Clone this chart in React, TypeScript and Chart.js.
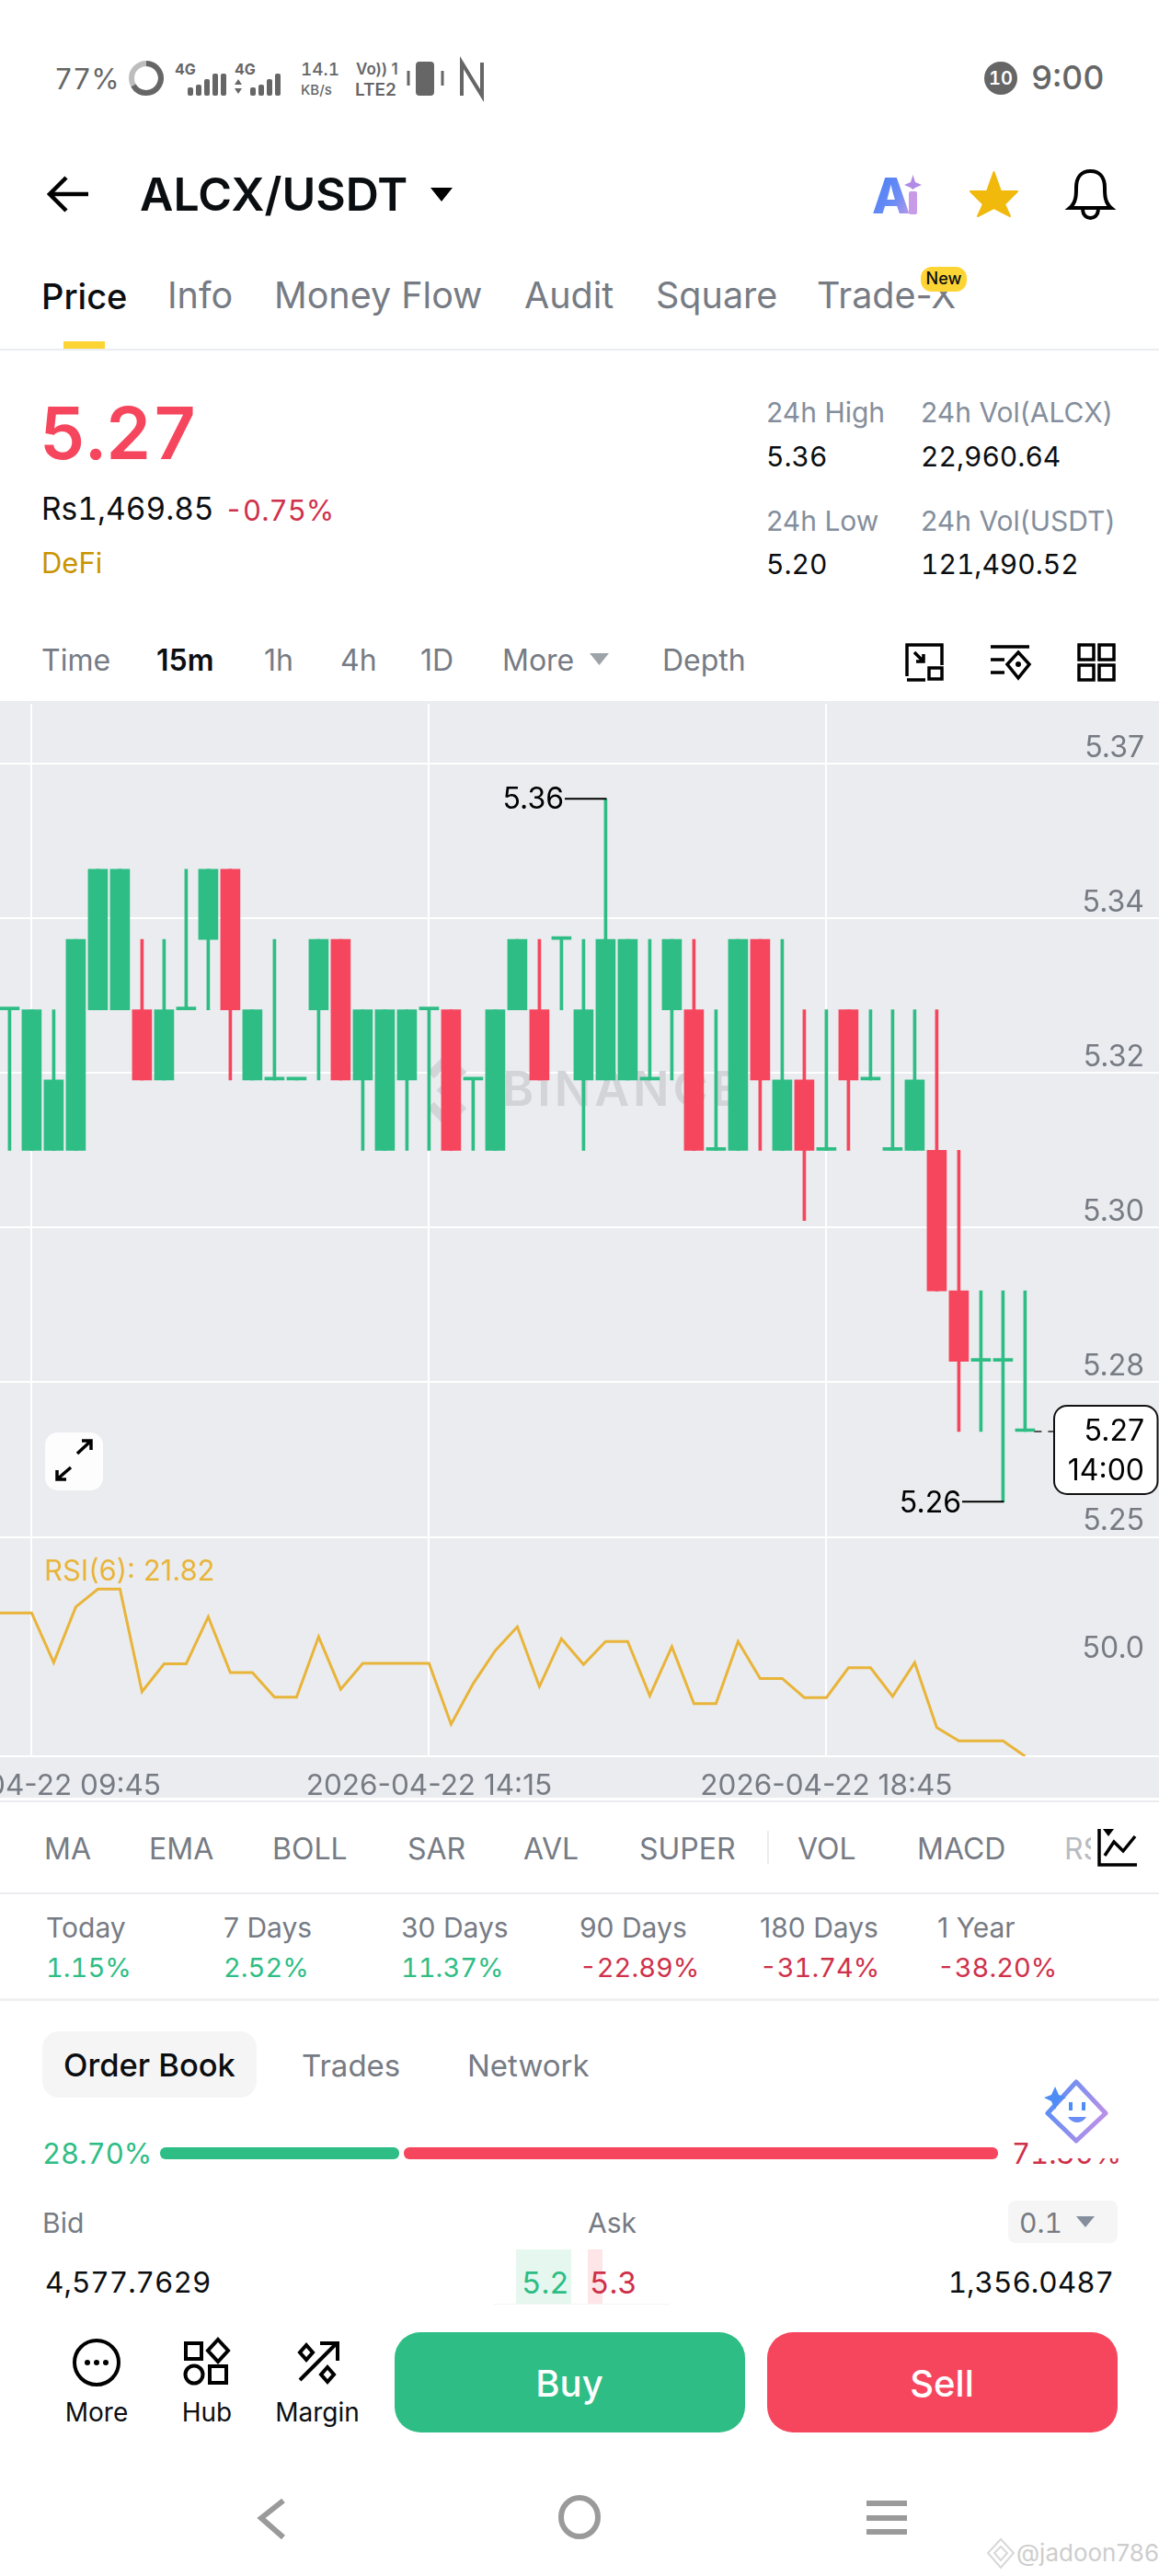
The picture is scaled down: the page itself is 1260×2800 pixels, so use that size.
import React, { useEffect, useRef } from "react";
import { Chart, registerables } from "chart.js";

Chart.register(...registerables);

const opens = [5.33,5.31,5.31,5.31,5.33,5.33,5.33,5.32,5.33,5.34,5.35,5.32,5.32,5.32,5.33,5.34,5.32,5.31,5.32,5.33,5.33,5.32,5.31,5.33,5.33,5.34,5.32,5.32,5.32,5.32,5.33,5.33,5.31,5.31,5.34,5.31,5.32,5.31,5.33,5.32,5.31,5.31,5.31,5.29,5.28,5.28,5.27];
const closes = [5.33,5.33,5.32,5.34,5.35,5.35,5.32,5.33,5.33,5.35,5.33,5.33,5.32,5.32,5.34,5.32,5.33,5.33,5.33,5.33,5.31,5.32,5.33,5.34,5.32,5.34,5.33,5.34,5.34,5.32,5.34,5.31,5.31,5.34,5.32,5.32,5.31,5.31,5.32,5.32,5.31,5.32,5.29,5.28,5.28,5.28,5.27];
const highs = [5.33,5.33,5.33,5.34,5.35,5.35,5.34,5.34,5.35,5.35,5.35,5.33,5.34,5.32,5.34,5.34,5.33,5.33,5.33,5.33,5.33,5.32,5.33,5.34,5.34,5.34,5.34,5.36,5.34,5.34,5.34,5.34,5.33,5.34,5.34,5.34,5.33,5.33,5.33,5.33,5.33,5.33,5.33,5.31,5.29,5.29,5.29];
const lows = [5.31,5.31,5.31,5.31,5.33,5.33,5.32,5.32,5.33,5.33,5.32,5.32,5.32,5.32,5.32,5.32,5.31,5.31,5.31,5.31,5.31,5.31,5.31,5.33,5.32,5.33,5.31,5.32,5.32,5.32,5.32,5.31,5.31,5.31,5.31,5.31,5.30,5.31,5.31,5.32,5.31,5.31,5.29,5.27,5.27,5.26,5.27];
const rsiValues = [58.66,58.66,58.66,45.89,60.19,64.79,64.79,38.42,45.58,45.58,57.64,43.33,43.33,36.99,36.99,52.53,39.04,45.68,45.68,45.68,45.68,30.04,40.47,48.95,55.08,39.75,52.02,45.38,51.30,51.30,37.40,49.97,35.36,35.36,51.30,41.80,41.80,36.89,36.89,44.56,44.56,37.20,45.89,29.22,25.75,25.75,25.75,21.82];
const priceTicks = [5.365,5.343,5.321,5.299,5.277,5.255];
const priceTickLabels = ["5.37","5.34","5.32","5.30","5.28","5.25"];
const rsiTicks = [50];
const rsiTickLabels = ["50.0"];
const timeTickIndex = [1,19,37];
const timeTickLabels = ["2026-04-22 09:45","2026-04-22 14:15","2026-04-22 18:45"];

const GREEN = "#2EBD85";
const RED = "#F6465D";
const GRAY = "#848E9C";
const DARK = "#767B84";
const BLACK = "#0B0E11";
const FONT = "Inter, sans-serif";
const CHART_TOP = 762;

const candleColor = (i: number) => (closes[i] >= opens[i] ? GREEN : RED);

function T(props: { x: number; y: number; s: number; c?: string; w?: number; a?: "l" | "r" | "m"; ls?: number; ff?: string; children: React.ReactNode }) {
  const { x, y, s, c = BLACK, w = 400, a = "l", ls = 0, ff = FONT, children } = props;
  const tx = a === "l" ? "0" : a === "r" ? "-100%" : "-50%";
  const numeric = typeof children === "string" && /^(Rs)?-?[\d.,:]+%?$/.test(children);
  return (
    <div style={{ position: "absolute", left: x, top: y, transform: `translate(${tx},-50%)`, fontSize: s, color: c, fontWeight: w, fontFamily: ff, lineHeight: 1, whiteSpace: "nowrap", letterSpacing: ls, fontVariantNumeric: numeric ? "tabular-nums" : "normal" }}>
      {children}
    </div>
  );
}

function Box(props: { x: number; y: number; w: number; h: number; c: string; r?: number }) {
  const { x, y, w, h, c, r = 0 } = props;
  return <div style={{ position: "absolute", left: x, top: y, width: w, height: h, background: c, borderRadius: r }} />;
}

const overlayPlugin = {
  id: "overlay",
  beforeDatasetsDraw(chart: any) {
    const g = chart.ctx;
    g.save();
    g.fillStyle = "#D2D4D8";
    g.font = "600 52px " + FONT;
    g.textBaseline = "middle";
    g.textAlign = "left";
    g.letterSpacing = "4px";
    g.fillText("BINANCE", 546, 1186 - CHART_TOP);
    g.letterSpacing = "0px";
    g.translate(486, 1185 - CHART_TOP);
    g.rotate(Math.PI / 4);
    g.fillRect(-8, -8, 16, 16);
    g.fillRect(-29, -29, 10, 30);
    g.fillRect(-29, -29, 30, 10);
    g.fillRect(19, -1, 10, 30);
    g.fillRect(-1, 19, 30, 10);
    g.restore();
  },
  afterDatasetsDraw(chart: any) {
    const g = chart.ctx;
    const xs = chart.scales.x;
    const ys = chart.scales.y;
    const hiIdx = highs.indexOf(Math.max(...highs));
    const loIdx = lows.indexOf(Math.min(...lows));
    const lastIdx = closes.length - 1;
    g.save();
    g.fillStyle = "#000";
    g.strokeStyle = "#000";
    g.lineWidth = 2;
    g.font = "400 32px " + FONT;
    g.textBaseline = "middle";
    // high / low leaders
    const hiY = ys.getPixelForValue(highs[hiIdx]);
    const hiX = xs.getPixelForValue(hiIdx);
    g.textAlign = "right";
    g.fillText(highs[hiIdx].toFixed(2), 613, hiY + 1);
    g.beginPath(); g.moveTo(614, hiY); g.lineTo(hiX + 1, hiY); g.stroke();
    const loY = ys.getPixelForValue(lows[loIdx]);
    const loX = xs.getPixelForValue(loIdx);
    g.fillText(lows[loIdx].toFixed(2), 1045, loY + 2);
    g.beginPath(); g.moveTo(1046, loY); g.lineTo(loX + 1, loY); g.stroke();
    // last price
    const lastY = ys.getPixelForValue(closes[lastIdx]);
    g.strokeStyle = "#555";
    g.setLineDash([8, 7]);
    g.beginPath(); g.moveTo(xs.getPixelForValue(lastIdx) + 10, lastY); g.lineTo(1146, lastY); g.stroke();
    g.setLineDash([]);
    g.beginPath();
    g.roundRect(1146, 1528 - CHART_TOP, 112.5, 96, 14);
    g.fillStyle = "#fff"; g.fill();
    g.strokeStyle = "#111"; g.stroke();
    g.fillStyle = "#000";
    g.fillText(closes[lastIdx].toFixed(2), 1244, 1556 - CHART_TOP);
    g.fillText("14:00", 1244, 1599 - CHART_TOP);
    // RSI legend
    g.textAlign = "left";
    g.fillStyle = "#E9B43A";
    g.font = "400 31px " + FONT;
    g.fillText("RSI(6): " + rsiValues[rsiValues.length - 1].toFixed(2), 48, 1709 - CHART_TOP);
    g.restore();
  },
};

function CandleChart() {
  const ref = useRef<HTMLCanvasElement>(null);
  useEffect(() => {
    const idx = opens.map((_, i) => i);
    const tickFont = { family: FONT, size: 32 };
    const chart = new Chart(ref.current as HTMLCanvasElement, {
      type: "bar",
      plugins: [overlayPlugin],
      data: {
        datasets: [
          {
            type: "bar", label: "Wick", xAxisID: "x", yAxisID: "y", grouped: false, order: 3,
            barThickness: 3,
            data: idx.map((i) => ({ x: i, y: [lows[i], highs[i]] })),
            backgroundColor: idx.map(candleColor),
          },
          {
            type: "bar", label: "Body", xAxisID: "x", yAxisID: "y", grouped: false, order: 2,
            barThickness: 21, minBarLength: 3,
            data: idx.map((i) => ({ x: i, y: [opens[i], closes[i]] })),
            backgroundColor: idx.map(candleColor),
          },
          {
            type: "line", label: "RSI(6)", xAxisID: "x", yAxisID: "yRsi", order: 1,
            data: rsiValues.map((v, i) => ({ x: i - 1, y: v })),
            borderColor: "#E9B43A", borderWidth: 3, pointRadius: 0, tension: 0,
          },
        ],
      } as any,
      options: {
        responsive: false,
        animation: false,
        devicePixelRatio: 1,
        layout: { autoPadding: false, padding: 0 },
        plugins: { legend: { display: false }, tooltip: { enabled: false } },
        scales: {
          x: {
            type: "linear", position: "bottom", offset: false, min: -0.4333, max: 52.0667,
            afterBuildTicks: (s: any) => { s.ticks = timeTickIndex.map((value) => ({ value })); },
            afterFit: (s: any) => { s.height = 45; s.paddingLeft = 0; s.paddingRight = 0; },
            ticks: {
              autoSkip: false, maxRotation: 0, minRotation: 0, padding: 14, color: DARK, font: { family: FONT, size: 31.5 },
              callback: (v: any) => timeTickLabels[timeTickIndex.indexOf(Number(v))],
            },
            grid: { color: "#FFFFFF", lineWidth: 2, drawTicks: false, offset: false },
            border: { display: true, color: "#FFFFFF", width: 2 },
          },
          y: {
            type: "linear", position: "right", stack: "panes", stackWeight: 907.9, min: 5.255, max: 5.3735,
            afterBuildTicks: (s: any) => { s.ticks = priceTicks.map((value) => ({ value })); },
            afterFit: (s: any) => { s.width = 0; },
            ticks: {
              mirror: true, padding: -16, labelOffset: -17, color: DARK, font: tickFont, autoSkip: false,
              callback: (v: any) => priceTickLabels[priceTicks.indexOf(Number(v))],
            },
            grid: { color: "#FFFFFF", lineWidth: 2, drawTicks: false },
            border: { display: false },
          },
          yRsi: {
            type: "linear", position: "right", stack: "panes", stackWeight: 239.1, min: 21.82, max: 78.18,
            afterBuildTicks: (s: any) => { s.ticks = rsiTicks.map((value) => ({ value })); },
            afterFit: (s: any) => { s.width = 0; },
            ticks: {
              mirror: true, padding: -16, labelOffset: 3, color: DARK, font: tickFont, autoSkip: false,
              callback: (v: any) => rsiTickLabels[rsiTicks.indexOf(Number(v))],
            },
            grid: { display: false },
            border: { display: false },
          },
        },
      } as any,
    });
    return () => chart.destroy();
  }, []);
  return <canvas ref={ref} width={1260} height={1192} style={{ position: "absolute", left: 0, top: CHART_TOP, width: 1260, height: 1192, background: "#EAECEF", display: "block" }} />;
}

function Icons() {
  const svg = (x: number, y: number, w: number, h: number, body: React.ReactNode, vb?: string) => (
    <svg style={{ position: "absolute", left: x, top: y }} width={w} height={h} viewBox={vb || `0 0 ${w} ${h}`} fill="none">{body}</svg>
  );
  const st = { stroke: "#000", strokeWidth: 4, fill: "none" } as any;
  const bars = (x0: number, n: number[]) => n.map((h, i) => <rect key={i} x={x0 + i * 9} y={104 - h} width={6} height={h} rx={2} fill="#666" />);
  return (
    <>
      {/* status bar */}
      {svg(0, 0, 560, 130, (
        <>
          <circle cx={159} cy={85} r={16} stroke="#BDBDBD" strokeWidth={6} />
          <path d="M159 69 A16 16 0 1 1 145 93" stroke="#666" strokeWidth={6} />
          {bars(204, [9, 12, 18, 24, 24].slice(0, 5))}
          {bars(272, [9, 12, 18, 24, 24].slice(0, 4))}
          <path d="M259 86 l-4 6 h8 z M259 102 l-4 -6 h8 z" fill="#666" />
          <rect x={452} y={67} width={20} height={37} rx={4} fill="#666" />
          <path d="M444 77 v16 M481 77 v16" stroke="#666" strokeWidth={3} />
          <path d="M502 104 V68 L524 104 V68" stroke="#666" strokeWidth={4} />
        </>
      ))}
      {/* back, caret, star, bell */}
      {svg(0, 170, 1260, 80, (
        <>
          <path d="M96 41 H54 M72 23 L54 41 L72 59" stroke="#000" strokeWidth={4.5} />
          <path d="M468 34 H492 L480 49 Z" fill="#000" />
          <defs>
            <linearGradient id="aig" x1="0" x2="1" y1="0" y2="1"><stop offset="0" stopColor="#3F7BF6" /><stop offset="0.6" stopColor="#6C8DF5" /><stop offset="1" stopColor="#D39BE0" /></linearGradient>
          </defs>
          <text x={948} y={62} fontFamily={FONT} fontWeight={800} fontSize={54} fill="url(#aig)">A</text>
          <rect x={988} y={38} width={9} height={25} rx={2} fill="#C79BE8" />
          <path d="M992.5 20 L995 28 L1002 31 L995 34 L992.5 36 L990 34 L983 31 L990 28 Z" fill="#B08BE8" />
          <path d="M1080.5 17 L1088 38 L1106 38 L1092 52 L1098 65 L1080.5 56 L1063 65 L1069 52 L1055 38 L1073 38 Z" fill="#F0B90B" stroke="#F0B90B" strokeWidth={2} strokeLinejoin="round" />
          <path d="M1163 56 C1170 50 1170 42 1170 34 C1170 22 1176 16 1185.5 16 C1195 16 1201 22 1201 34 C1201 42 1201 50 1208 56 Z M1177 58 C1178 70 1193 70 1194 58" {...st} />
        </>
      ))}
      {/* interval row icons */}
      {svg(980, 695, 240, 50, (
        <>
          <path d="M6 40 V6 H44 V28 M6 44 H26 M14 14 L24 24 M24 16 V24 H16" {...st} strokeWidth={3.5} />
          <rect x={30} y={31} width={14} height={12} {...st} strokeWidth={3.5} />
          <path d="M97 8 H139 M97 22 H112 M97 36 H112" {...st} strokeWidth={3.5} />
          <path d="M127 14 L139 27 L127 42 L115 27 Z" {...st} strokeWidth={3.5} />
          <circle cx={127} cy={27} r={3} fill="#000" />
          <rect x={193} y={6} width={16} height={16} {...st} strokeWidth={3.5} /><rect x={215} y={6} width={16} height={16} {...st} strokeWidth={3.5} />
          <rect x={193} y={28} width={16} height={16} {...st} strokeWidth={3.5} /><rect x={215} y={28} width={16} height={16} {...st} strokeWidth={3.5} />
        </>
      ))}
      {/* triangle */}
      {svg(640, 709, 24, 16, <path d="M1 1 H22 L11.5 14 Z" fill="#9EA3AA" />)}
      {/* expand button */}
      {svg(49, 1557, 63, 63, (
        <>
          <rect x={0} y={0} width={63} height={63} rx={14} fill="#FDFDFD" />
          <path d="M35 23 L50 9 M40 9 H50 V19 M28 38 L13 51 M13 41 V51 H23" stroke="#000" strokeWidth={3.5} />
        </>
      ))}
      {/* indicator icon */}
      {svg(1190, 1985, 50, 48, (
        <>
          <path d="M5 3 V42 H46" stroke="#000" strokeWidth={3.5} />
          <path d="M11 32 L21 17 L31 27 L44 11" stroke="#000" strokeWidth={3.5} />
          <path d="M9 3 H21 L15 11 Z" fill="#000" />
        </>
      ))}
      {/* mascot */}
      {svg(1118, 2255, 100, 92, (
        <>
          <rect x={0} y={0} width={100} height={91} fill="#FFF" />
          <defs>
            <linearGradient id="mg" x1="0" x2="1" y1="0" y2="0.4"><stop offset="0" stopColor="#4E8DF6" /><stop offset="1" stopColor="#B690E8" /></linearGradient>
          </defs>
          <path d="M52 8 L84 42 L52 72 L21 42 Z" stroke="url(#mg)" strokeWidth={5} strokeLinejoin="round" />
          <path d="M29 13 L33 22 L41 25 L33 29 L29 38 L25 29 L17 25 L25 22 Z" fill="#4E8DF6" />
          <path d="M46 30 V39 M60 30 V39" stroke="#4E8DF6" strokeWidth={4} />
          <path d="M43 46 C48 54 58 54 63 46 Z" fill="#6C8DF5" />
        </>
      ))}
      {/* 0.1 caret */}
      {svg(1169, 2408, 22, 14, <path d="M1 1 H21 L11 13 Z" fill="#848E9C" />)}
      {/* bottom action icons */}
      {svg(70, 2535, 310, 62, (
        <>
          <circle cx={35} cy={33} r={24} {...st} />
          <circle cx={25} cy={33} r={3} fill="#000" /><circle cx={35} cy={33} r={3} fill="#000" /><circle cx={45} cy={33} r={3} fill="#000" />
          <rect x={132} y={12} width={17} height={17} {...st} />
          <path d="M167 8 L178 20 L167 32 L156 20 Z" {...st} />
          <circle cx={141} cy={46} r={9.5} {...st} />
          <rect x={158} y={37} width={18} height={18} {...st} />
          <path d="M256 52 L296 12 M278 12 H297 V31" {...st} />
          <path d="M263 14 L270 22 L263 30 L256 22 Z M286 38 L293 46 L286 54 L279 46 Z" {...st} />
        </>
      ))}
      {/* nav bar */}
      {svg(270, 2710, 730, 54, (
        <>
          <path d="M38 8 L14 27 L38 48" stroke="#9A9A9A" strokeWidth={6} />
          <ellipse cx={360} cy={26} rx={20} ry={21} stroke="#9A9A9A" strokeWidth={6} />
          <path d="M672 11 H716 M672 27 H716 M672 42 H716" stroke="#9A9A9A" strokeWidth={6} />
        </>
      ))}
      {svg(1072, 2758, 32, 36, <path d="M16 2 L30 17 L16 33 L2 17 Z M16 10 L23 17 L16 25 L9 17 Z" stroke="#D8D8D8" strokeWidth={2} />)}
    </>
  );
}

export default function App() {
  const stats = [["Today","1.15%",50,GREEN],["7 Days","2.52%",243,GREEN],["30 Days","11.37%",436,GREEN],["90 Days","-22.89%",630,"#CF304A"],["180 Days","-31.74%",826,"#CF304A"],["1 Year","-38.20%",1019,"#CF304A"]] as const;
  const inds = [["MA",48],["EMA",162],["BOLL",296],["SAR",443],["AVL",569],["SUPER",695],["VOL",867],["MACD",997]] as const;
  return (
    <div style={{ position: "absolute", left: 0, top: 0, width: 1260, height: 2800, background: "#FFF", overflow: "hidden" }}>
      {/* status bar */}
      <T x={59} y={85} s={31} c="#666">77%</T>
      <T x={190} y={75} s={16} c="#666" w={700}>4G</T>
      <T x={255} y={75} s={16} c="#666" w={700}>4G</T>
      <T x={327} y={75} s={19} c="#666" w={500}>14.1</T>
      <T x={327} y={97} s={15} c="#666" w={500}>KB/s</T>
      <T x={387} y={75} s={17} c="#666" w={600}>Vo)) 1</T>
      <T x={386} y={97} s={19} c="#666" w={600}>LTE2</T>
      <div style={{ position: "absolute", left: 1070, top: 67, width: 36, height: 36, borderRadius: 18, background: "#666" }} />
      <T x={1088} y={85} s={20} c="#FFF" a="m" w={600}>10</T>
      <T x={1121} y={84} s={36} c="#666" w={500}>9:00</T>

      {/* header */}
      <T x={152} y={211} s={50} w={600}>ALCX/USDT</T>
      <T x={45} y={322} s={38} w={500}>Price</T>
      <T x={182} y={322} s={39.5} c={DARK}>Info</T>
      <T x={298} y={322} s={39.5} c={DARK}>Money Flow</T>
      <T x={570} y={322} s={39.5} c={DARK}>Audit</T>
      <T x={713} y={322} s={39.5} c={DARK}>Square</T>
      <T x={888} y={322} s={39.5} c={DARK}>Trade-X</T>
      <Box x={1001} y={290} w={50} h={27} c="#FCD535" r={12} />
      <T x={1026} y={303} s={18} a="m" w={500}>New</T>
      <Box x={69} y={371} w={45} h={9} c="#FCD535" />
      <Box x={0} y={379} w={1260} h={2} c="#EAECEF" />

      {/* price block */}
      <T x={43} y={471} s={78} c={RED} w={600}>5.27</T>
      <T x={45} y={554} s={33.5} w={400}>Rs1,469.85</T>
      <T x={244} y={554} s={31} c="#CF304A">-0.75%</T>
      <T x={45} y={611} s={31} c="#C99400">DeFi</T>
      <T x={833} y={448} s={30} c={GRAY}>24h High</T>
      <T x={1001} y={448} s={30} c={GRAY}>24h Vol(ALCX)</T>
      <T x={833} y={496} s={30}>5.36</T>
      <T x={1001} y={496} s={30}>22,960.64</T>
      <T x={833} y={566} s={30} c={GRAY}>24h Low</T>
      <T x={1001} y={566} s={30} c={GRAY}>24h Vol(USDT)</T>
      <T x={833} y={613} s={30}>5.20</T>
      <T x={1001} y={613} s={30}>121,490.52</T>

      {/* interval row */}
      <T x={45} y={718} s={32} c={DARK}>Time</T>
      <T x={170} y={718} s={32} w={600}>15m</T>
      <T x={287} y={718} s={32} c={DARK}>1h</T>
      <T x={370} y={718} s={32} c={DARK}>4h</T>
      <T x={457} y={718} s={32} c={DARK}>1D</T>
      <T x={546} y={718} s={32} c={DARK}>More</T>
      <T x={720} y={718} s={32} c={DARK}>Depth</T>

      <CandleChart />

      {/* indicators */}
      <Box x={0} y={1957} w={1260} h={2} c="#EAECEF" />
      {inds.map(([t, x]) => <T key={t} x={x} y={2010} s={32} c={DARK}>{t}</T>)}
      <Box x={834} y={1990} w={2} h={36} c="#EAECEF" />
      <T x={1157} y={2010} s={32} c="#B8BCC2">RS</T>
      <Box x={1186} y={1980} w={74} h={60} c="#FFF" />
      <Box x={0} y={2057} w={1260} h={2} c="#EAECEF" />
      {stats.map(([a, b, x, col]) => (
        <React.Fragment key={a}>
          <T x={x} y={2095} s={30} c={DARK}>{a}</T>
          <T x={x} y={2138} s={29} c={col}>{b}</T>
        </React.Fragment>
      ))}
      <Box x={0} y={2172} w={1260} h={3} c="#EEF0F2" />

      {/* order book */}
      <Box x={46} y={2208} w={233} h={72} c="#F5F5F5" r={18} />
      <T x={69} y={2245} s={34.5} w={500}>Order Book</T>
      <T x={328} y={2245} s={33} c={DARK}>Trades</T>
      <T x={508} y={2245} s={33} c={DARK}>Network</T>
      <T x={46} y={2340} s={31} c={GREEN}>28.70%</T>
      <Box x={174} y={2334} w={260} h={13} c={GREEN} r={6} />
      <Box x={439} y={2334} w={646} h={13} c={RED} r={6} />
      <T x={1100} y={2340} s={31} c="#CF304A">71.30%</T>
      <T x={46} y={2416} s={30} c={DARK}>Bid</T>
      <T x={639} y={2416} s={30} c={DARK}>Ask</T>
      <Box x={1096} y={2392} w={119} h={46} c="#F5F5F5" r={8} />
      <T x={1108} y={2416} s={30} c={DARK}>0.1</T>
      <Box x={561} y={2445} w={60} h={60} c="#E6F7F0" />
      <Box x={639} y={2445} w={16} h={60} c="#FDE5E8" />
      <Box x={537} y={2504} w={191} h={1} c="#F3F3F3" />
      <T x={49} y={2481} s={31.5}>4,577.7629</T>
      <T x={567} y={2481} s={33} c={GREEN}>5.2</T>
      <T x={641} y={2481} s={33} c="#CF304A">5.3</T>
      <T x={1211} y={2481} s={31.5} a="r">1,356.0487</T>

      {/* actions */}
      <T x={105} y={2622} s={28} a="m">More</T>
      <T x={225} y={2622} s={28} a="m">Hub</T>
      <T x={345} y={2622} s={28} a="m">Margin</T>
      <Box x={429} y={2535} w={381} h={109} c={GREEN} r={28} />
      <Box x={834} y={2535} w={381} h={109} c={RED} r={28} />
      <T x={619} y={2591} s={40} c="#FFF" a="m" w={500}>Buy</T>
      <T x={1024} y={2591} s={40} c="#FFF" a="m" w={500}>Sell</T>
      <T x={1105} y={2775} s={26} c="#CDCDCD">@jadoon786</T>

      <Icons />
    </div>
  );
}
